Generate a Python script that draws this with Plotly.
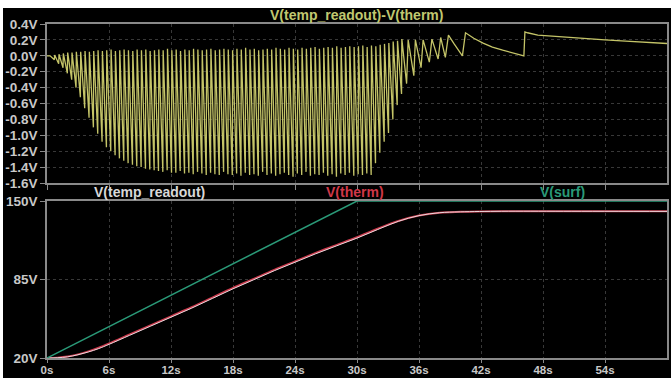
import plotly.graph_objects as go

# ---------------- data ----------------
# top panel: V(temp_readout)-V(therm) relaxation oscillation (trough -> fast rise -> slow decay)
trough_t = [0.71, 1.13, 1.55, 1.97, 2.39, 2.81, 3.23, 3.65, 4.07, 4.49, 4.91, 5.33, 5.75, 6.17, 6.59, 7.01,
            7.43, 7.85, 8.27, 8.69, 9.11, 9.53, 9.95, 10.37, 10.79, 11.21, 11.63, 12.05, 12.47, 12.89, 13.31,
            13.73, 14.15, 14.57, 14.99, 15.41, 15.83, 16.25, 16.67, 17.09, 17.51, 17.93, 18.35, 18.77, 19.19,
            19.61, 20.03, 20.45, 20.87, 21.29, 21.71, 22.13, 22.55, 22.97, 23.39, 23.81, 24.23, 24.65, 25.07,
            25.49, 25.91, 26.33, 26.75, 27.17, 27.59, 28.01, 28.43, 28.85, 29.27, 29.69, 30.11, 30.53, 30.95,
            31.37, 31.79, 32.21, 32.63, 33.05, 33.47, 33.89, 34.31]
trough_v = [-0.05, -0.10, -0.15, -0.22, -0.30, -0.40, -0.52, -0.66, -0.78, -0.90,
            -0.98, -1.08, -1.15, -1.20, -1.25, -1.29, -1.32, -1.35, -1.37, -1.39,
            -1.40, -1.42, -1.43, -1.44, -1.45, -1.46, -1.44, -1.47, -1.47, -1.45,
            -1.48, -1.47, -1.49, -1.46, -1.48, -1.50, -1.47, -1.49, -1.50, -1.46,
            -1.49, -1.50, -1.48, -1.51, -1.47, -1.50, -1.49, -1.51, -1.46, -1.50,
            -1.48, -1.51, -1.49, -1.47, -1.50, -1.52, -1.48, -1.50, -1.46, -1.51,
            -1.49, -1.50, -1.47, -1.51, -1.49, -1.52, -1.48, -1.50, -1.47, -1.51,
            -1.49, -1.50, -1.48, -1.50, -1.35, -1.22, -1.08, -0.97, -0.80, -0.62, -0.48]
peak_t = [0.74, 1.16, 1.58, 2.00, 2.42, 2.84, 3.26, 3.68, 4.10, 4.52, 4.94, 5.36, 5.78, 6.20, 6.62, 7.04,
          7.46, 7.88, 8.30, 8.72, 9.14, 9.56, 9.98, 10.40, 10.82, 11.24, 11.66, 12.08, 12.50, 12.92, 13.34,
          13.76, 14.18, 14.60, 15.02, 15.44, 15.86, 16.28, 16.70, 17.12, 17.54, 17.96, 18.38, 18.80, 19.22,
          19.64, 20.06, 20.48, 20.90, 21.32, 21.74, 22.16, 22.58, 23.00, 23.42, 23.84, 24.26, 24.68, 25.10,
          25.52, 25.94, 26.36, 26.78, 27.20, 27.62, 28.04, 28.46, 28.88, 29.30, 29.72, 30.14, 30.56, 30.98,
          31.40, 31.82, 32.24, 32.66, 33.08, 33.50, 33.92, 34.34]
peak_v = [0.01, 0.02, 0.03, 0.04, 0.04, 0.05, 0.05, 0.06, 0.05, 0.06,
          0.07, 0.06, 0.07, 0.08, 0.06, 0.07, 0.08, 0.07, 0.06, 0.08,
          0.07, 0.08, 0.06, 0.07, 0.08, 0.07, 0.09, 0.07, 0.08, 0.06,
          0.08, 0.07, 0.09, 0.08, 0.07, 0.08, 0.09, 0.07, 0.08, 0.09,
          0.08, 0.07, 0.09, 0.08, 0.10, 0.08, 0.09, 0.07, 0.08, 0.09,
          0.08, 0.10, 0.09, 0.08, 0.10, 0.09, 0.08, 0.10, 0.09, 0.10,
          0.11, 0.09, 0.10, 0.11, 0.10, 0.12, 0.10, 0.11, 0.12, 0.11,
          0.12, 0.13, 0.11, 0.13, 0.12, 0.14, 0.15, 0.16, 0.18, 0.19, 0.21]
start_t = [0.0, 0.3]
start_v = [0.0, 0.0]
tail_t = [34.80, 34.95, 35.50, 35.65, 36.20, 36.40, 37.00, 37.25, 37.85, 38.10, 38.55, 38.85,
          39.40, 39.90, 40.20, 40.50, 41.30, 42.20, 43.10, 44.10, 45.10, 46.15, 46.25, 46.50, 47.50,
          50.00, 52.00, 54.00, 56.00, 58.00, 60.00]
tail_v = [-0.35, 0.20, -0.25, 0.20, -0.15, 0.20, -0.08, 0.21, -0.04, 0.23, -0.02, 0.26,
          0.15, 0.05, 0.00, 0.29, 0.22, 0.16, 0.11, 0.07, 0.035, 0.00, 0.30, 0.29, 0.26,
          0.235, 0.215, 0.20, 0.185, 0.17, 0.155]

# bottom panel
bt = [0, 1, 2, 3, 4, 5, 6, 8, 10, 12, 14, 16, 18, 20, 22, 24, 26, 28, 30, 32, 34, 36, 38, 40, 44, 50, 60]
therm = [20, 20.3, 21.2, 23, 25.5, 28.5, 32, 39.5, 47, 54.5, 62, 70, 78, 85.5, 93, 100, 107, 113.5,
         120, 127, 133.5, 138, 140.3, 141, 141.5, 141.5, 141.5]
readout = [20, 20.2, 21.0, 22.7, 25.0, 27.8, 31.3, 38.8, 46.3, 53.8, 61.3, 69.3, 77.3, 84.8, 92.3,
           99.3, 106.3, 112.8, 119.3, 126.4, 133.2, 137.9, 140.3, 141.0, 141.5, 141.5, 141.4]
surf_t = [0, 30, 60]
surf_v = [20, 150, 150]

x_ticks = [0, 6, 12, 18, 24, 30, 36, 42, 48, 54]
x_labels = ["0s", "6s", "12s", "18s", "24s", "30s", "36s", "42s", "48s", "54s"]
top_ticks = [0.4, 0.2, 0.0, -0.2, -0.4, -0.6, -0.8, -1.0, -1.2, -1.4, -1.6]
top_labels = ["0.4V", "0.2V", "0.0V", "-0.2V", "-0.4V", "-0.6V", "-0.8V", "-1.0V", "-1.2V", "-1.4V", "-1.6V"]
bot_ticks = [20, 85, 150]
bot_labels = ["20V", "85V", "150V"]

# ---------------- build ----------------
osc_t = list(start_t)
osc_v = list(start_v)
for a, b, c, d in zip(trough_t, trough_v, peak_t, peak_v):
    osc_t += [a, c]
    osc_v += [b, d]
osc_t += tail_t
osc_v += tail_v

W, H = 671, 378
def px(x):
    return x / W
def py(y):
    return 1 - y / H

fig = go.Figure()
fig.add_trace(go.Scatter(x=osc_t, y=osc_v, mode="lines", xaxis="x", yaxis="y",
                         line=dict(color="#c4c468", width=1.3), hoverinfo="skip"))
fig.add_trace(go.Scatter(x=bt, y=therm, mode="lines", xaxis="x2", yaxis="y2", line_shape="spline",
                         line=dict(color="#c83a4c", width=2)))
fig.add_trace(go.Scatter(x=bt, y=readout, mode="lines", xaxis="x2", yaxis="y2", line_shape="spline",
                         line=dict(color="#e8d8dc", width=1)))
fig.add_trace(go.Scatter(x=surf_t, y=surf_v, mode="lines", xaxis="x2", yaxis="y2",
                         line=dict(color="#2a9a78", width=1.5)))

tickfont = dict(family="Liberation Sans", size=13.5, color="#c8c8c8", weight="bold")
axis_common = dict(showline=True, mirror=True, linecolor="#8a8a8a", linewidth=1.5,
                   showgrid=True, gridcolor="#383838", griddash="dot", gridwidth=1,
                   zeroline=False, ticks="outside", tickcolor="#8a8a8a",
                   automargin=False, fixedrange=True)

xdom = [px(47), px(667)]
fig.update_layout(
    width=W, height=H, margin=dict(l=0, r=0, t=0, b=0),
    template="none", showlegend=False,
    paper_bgcolor="#ffffff", plot_bgcolor="#000000",
    xaxis=dict(domain=xdom, range=[0, 60], tickvals=x_ticks, showticklabels=False,
               anchor="y", ticklen=5, tickfont=tickfont, **axis_common),
    yaxis=dict(domain=[py(183), py(24)], range=[-1.6, 0.4], tickvals=top_ticks, ticktext=top_labels,
               anchor="x", ticklen=5, tickfont=tickfont, **axis_common),
    xaxis2=dict(domain=xdom, range=[0, 60], tickvals=x_ticks, ticktext=x_labels,
                anchor="y2", ticklen=3, ticklabelstandoff=-3,
                tickfont=dict(family="Liberation Sans", size=11.5, color="#c8c8c8", weight="bold"),
                **axis_common),
    yaxis2=dict(domain=[py(358), py(201)], range=[20, 150], tickvals=bot_ticks, ticktext=bot_labels,
                anchor="x2", ticklen=5, tickfont=tickfont, **axis_common),
    shapes=[dict(type="rect", xref="paper", yref="paper", x0=px(3), x1=1, y0=0, y1=py(8),
                 fillcolor="#000000", line=dict(width=0), layer="below")],
)

ann_font = dict(family="Liberation Sans", size=14, weight="bold")
for txt, xc, yc, col in [("V(temp_readout)-V(therm)", 356, 15, "#c0c870"),
                         ("V(temp_readout)", 149, 192, "#d8d8d8"),
                         ("V(therm)", 355, 192, "#d03848"),
                         ("V(surf)", 562, 192, "#2a9a78")]:
    fig.add_annotation(x=px(xc), y=py(yc), xref="paper", yref="paper", showarrow=False,
                       xanchor="center", yanchor="middle", text=txt, font=dict(color=col, **ann_font))

fig.write_html("out.html")
